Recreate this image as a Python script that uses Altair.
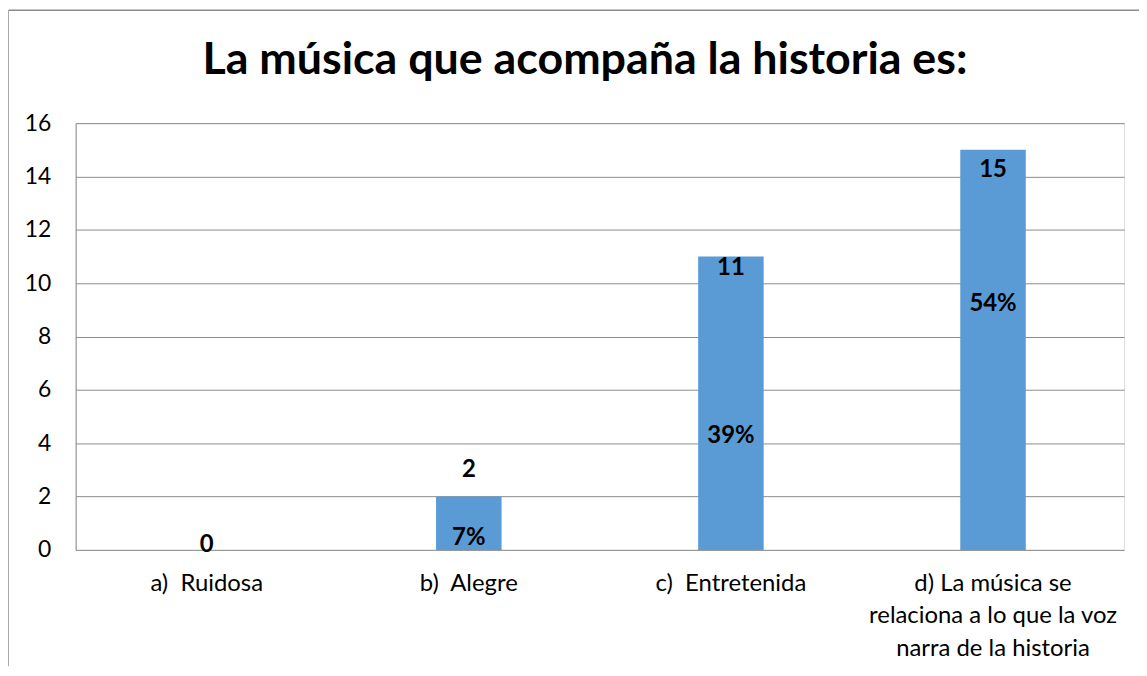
import altair as alt
import pandas as pd

NB = "\u00a0"
categories = ["a)" + NB + NB + "Ruidosa", "b)" + NB + NB + "Alegre", "c)" + NB + NB + "Entretenida",
              "d) La música se\nrelaciona a lo que la voz\nnarra de la historia"]
counts = [0, 2, 11, 15]
count_labels = ["0", "2", "11", "15"]
count_label_at = [0.2, 3.0, 10.55, 14.25]
pct_labels = ["", "7%", "39%", "54%"]
pct_label_at = [0.45, 0.45, 4.25, 9.2]
title_text = "La música que acompaña la historia es:"

df = pd.DataFrame({
    "cat": categories,
    "count": counts,
    "clabel": count_labels,
    "cpos": count_label_at,
    "plabel": pct_labels,
    "ppos": pct_label_at,
})

FONT = "Lato"
x_enc = alt.X("cat:N", sort=categories, title=None,
              scale=alt.Scale(paddingInner=0.75, paddingOuter=0.375),
              axis=alt.Axis(labelAngle=0, labelFontSize=24, labelFont=FONT,
                            labelColor="#000000", labelPadding=34,
                            labelLineHeight=32.5, ticks=False, domain=False,
                            labelLimit=0,
                            labelExpr="split(datum.label, '\\n')",
                            labelBaseline="middle"))
y_scale = alt.Scale(domain=[0, 16])

base = alt.Chart(df)

bars = base.mark_bar(color="#5B9BD5").encode(
    x=x_enc,
    y=alt.Y("count:Q", scale=y_scale, title=None,
            axis=alt.Axis(values=list(range(0, 17, 2)), labelFontSize=23,
                          labelFont=FONT, labelColor="#000000", ticks=False,
                          labelPadding=25, grid=True, gridColor="#8C8C8C",
                          domainColor="#8C8C8C", domain=True)),
)

clabels = base.mark_text(fontSize=24, fontWeight="bold", font=FONT,
                         color="#000000", baseline="middle").encode(
    x=alt.X("cat:N", sort=categories),
    y=alt.Y("cpos:Q", scale=y_scale),
    text="clabel:N",
)

plabels = base.mark_text(fontSize=24, fontWeight="bold", font=FONT,
                         color="#000000", baseline="middle").encode(
    x=alt.X("cat:N", sort=categories),
    y=alt.Y("ppos:Q", scale=y_scale),
    text="plabel:N",
)

title = alt.Chart(pd.DataFrame({"t": [title_text]})).mark_text(
    fontSize=45, fontWeight="bold", font=FONT, color="#000000",
    baseline="alphabetic", align="center").encode(
    x=alt.value(512), y=alt.value(-49), text="t:N")

frame_top = alt.Chart(pd.DataFrame({"a": [0]})).mark_rule(
    color="#8C8C8C", strokeWidth=1.5).encode(
    x=alt.value(-67.5), x2=alt.value(1075), y=alt.value(-113.5))
frame_left = alt.Chart(pd.DataFrame({"a": [0]})).mark_rule(
    color="#8C8C8C", strokeWidth=1.5).encode(
    x=alt.value(-68), y=alt.value(-113.5), y2=alt.value(546))

chart = alt.layer(bars, clabels, plabels, title, frame_top, frame_left).properties(
    width=1054, height=429,
    autosize=alt.AutoSizeParams(type="none"),
    padding={"left": 68, "top": 114, "right": 15, "bottom": 117},
).configure_view(stroke=None).configure(background="#ffffff")

chart.save("out.html", embed_options={"renderer": "svg", "actions": False})
